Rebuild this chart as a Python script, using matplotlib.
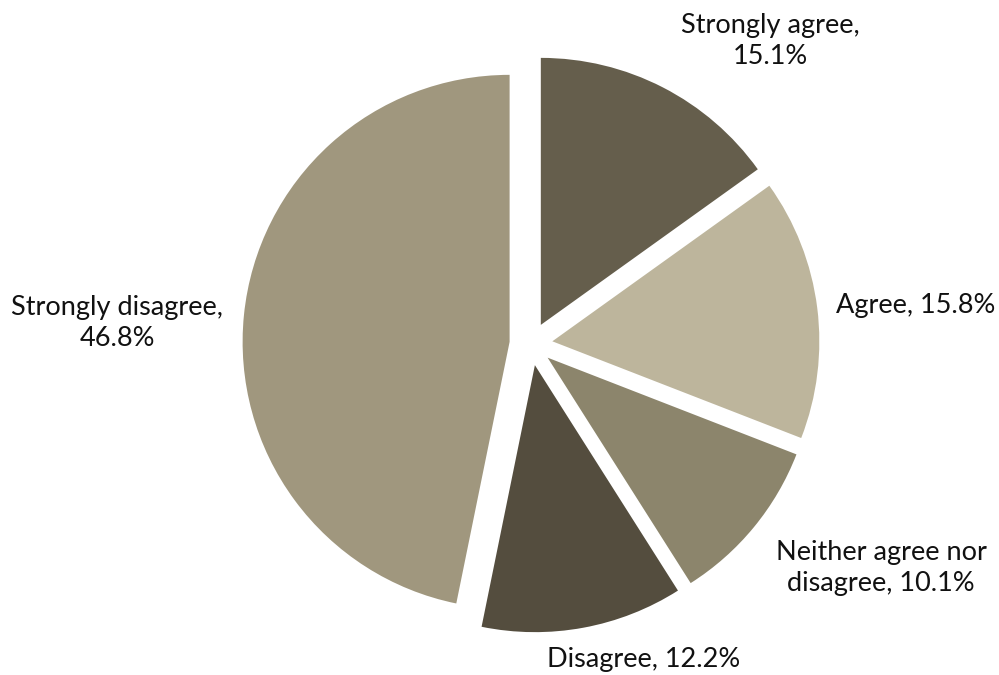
import matplotlib
matplotlib.use("Agg")
import matplotlib.pyplot as plt

# Survey responses (share of respondents, %)
categories = ["Strongly agree", "Agree", "Neither agree nor disagree",
              "Disagree", "Strongly disagree"]
shares = [15.1, 15.8, 10.1, 12.2, 46.8]
colors = ["#655E4C", "#BDB59C", "#8C856C", "#544D3E", "#A0977E"]

W, H = 999, 675
fig = plt.figure(figsize=(W / 100, H / 100), dpi=100)
ax = fig.add_axes([0, 0, 1, 1])

radius = 267
center = (531, H - 344)
gap = 21.5

ax.pie(shares, colors=colors, startangle=90, counterclock=False,
       radius=radius, center=center, explode=[gap] * len(shares),
       wedgeprops=dict(linewidth=0), frame=False)
ax.set_xlim(0, W)
ax.set_ylim(0, H)
ax.set_aspect("equal")
ax.axis("off")

# Label text and where each label sits
label_text = [
    f"Strongly agree,\n{shares[0]}%",
    f"Agree, {shares[1]}%",
    f"Neither agree nor\ndisagree, {shares[2]}%",
    f"Disagree, {shares[3]}%",
    f"Strongly disagree,\n{shares[4]}%",
]
label_pos = [(770, 41), (916, 305), (881, 568), (644, 660), (117, 323)]

for txt, (x, y) in zip(label_text, label_pos):
    ax.text(x, H - y, txt, ha="center", va="center", fontsize=19.5,
            family=["Lato", "DejaVu Sans"], color="#111111",
            linespacing=1.3)

fig.savefig("out.png", dpi=100)
